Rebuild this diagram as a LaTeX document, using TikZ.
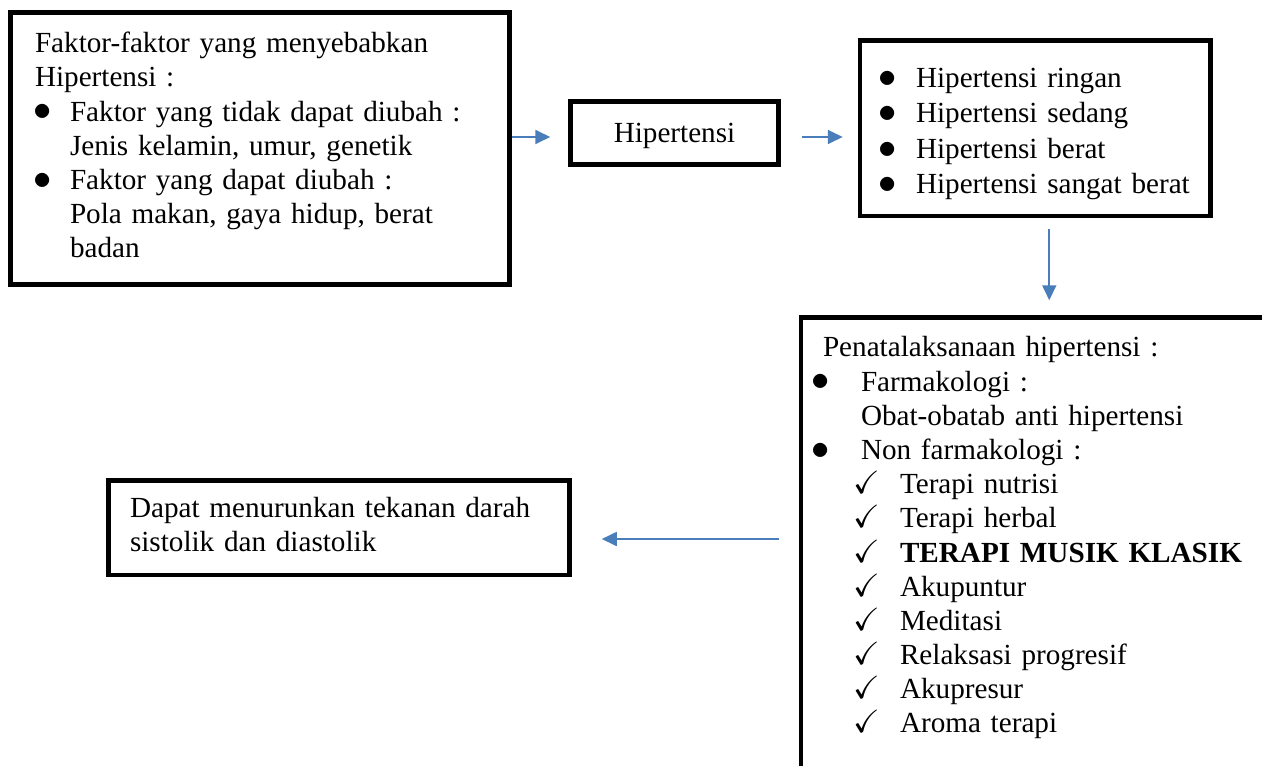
\documentclass[tikz,border=0pt]{standalone}
\usepackage{amssymb}
\usepackage{fontspec}
\setmainfont{Liberation Serif}
\usetikzlibrary{arrows.meta,calc}

\definecolor{arrowblue}{RGB}{74,126,187}
\newcommand{\bigdot}{\smash{\raisebox{0.01em}{\scalebox{1.2}{$\bullet$}}}}
\newcommand{\bul}[2]{\par\hangindent=#1\hangafter=0\noindent\llap{\makebox[#1][l]{\kern-0.06em\bigdot}}#2}
\newcommand{\chk}[1]{\par\hangindent=1.74cm\hangafter=0\noindent\llap{\makebox[0.94cm][l]{\scalebox{1.1}{$\checkmark$}}}#1}

\begin{document}
\begin{tikzpicture}[
		box/.style={draw, line width=0.09cm, align=left, font=\fontsize{16.6}{19.45}\selectfont},
		flow/.style={draw=arrowblue, line width=0.035cm, -{Triangle[length=0.3cm,width=0.28cm]}}
	]
  \useasboundingbox (0,0) rectangle (25.24cm,-15.3cm);
  \node (factors) [box, text width=9cm, inner xsep=0.49cm, minimum height=5.44cm] at (5.2cm, -2.97cm) {\strut Faktor-faktor yang menyebabkan\newline Hipertensi :
    \bul{0.7cm}{Faktor yang tidak dapat diubah :\newline Jenis kelamin, umur, genetik}
    \bul{0.7cm}{Faktor yang dapat diubah :\newline Pola makan, gaya hidup, berat\newline badan\strut}\par};
  \node (hyper) [box, align=center, minimum width=4.16cm, minimum height=1.26cm, text height=0.5cm] at (13.49cm, -2.66cm) {Hipertensi};
  \node (grades) [box, text width=6.21cm, inner xsep=0.4cm, minimum height=3.51cm, font=\fontsize{16.6}{20.2}\selectfont] at (20.705cm, -2.565cm) {\bul{0.72cm}{\strut Hipertensi ringan}
    \bul{0.72cm}{Hipertensi sedang}
    \bul{0.72cm}{Hipertensi berat}
    \bul{0.72cm}{Hipertensi sangat berat\strut}\par};
  \node (treatment) [box, anchor=north west, text width=10cm, inner xsep=0.24cm, inner ysep=0.31cm, text depth=10cm] at (15.975cm, -6.305cm) {\hspace*{0.2cm}\strut Penatalaksanaan hipertensi :
    \bul{0.96cm}{Farmakologi :\newline Obat-obatab anti hipertensi}
    \bul{0.96cm}{Non farmakologi :}
    \chk{Terapi nutrisi}
    \chk{Terapi herbal}
    \chk{\textbf{TERAPI MUSIK KLASIK}}
    \chk{Akupuntur}
    \chk{Meditasi}
    \chk{Relaksasi progresif}
    \chk{Akupresur}
    \chk{Aroma terapi}\par};
  \node (effect) [box, text width=8.36cm, inner xsep=0.43cm, minimum height=1.89cm] at (6.78cm, -10.555cm) {\strut Dapat menurunkan tekanan darah\newline sistolik dan diastolik\strut};
  \draw[flow, shorten >=0.36cm] ($(factors.east |- hyper.west)+(0,-0.08)$) -- ($(hyper.west)+(0,-0.08)$);
  \draw[flow, shorten <=0.42cm, shorten >=0.3cm] ($(hyper.east)+(0,-0.08)$) -- ($(grades.west |- hyper.east)+(0,-0.08)$);
  \draw[flow, shorten <=0.21cm, shorten >=0.3cm] ($(grades.south)+(0.28,0)$) -- ($(grades.south |- treatment.north)+(0.28,0)$);
  \draw[flow, shorten <=0.39cm, shorten >=0.6cm] ($(treatment.west |- effect.east)+(0,-0.225)$) -- ($(effect.east)+(0,-0.225)$);
\end{tikzpicture}
\end{document}
